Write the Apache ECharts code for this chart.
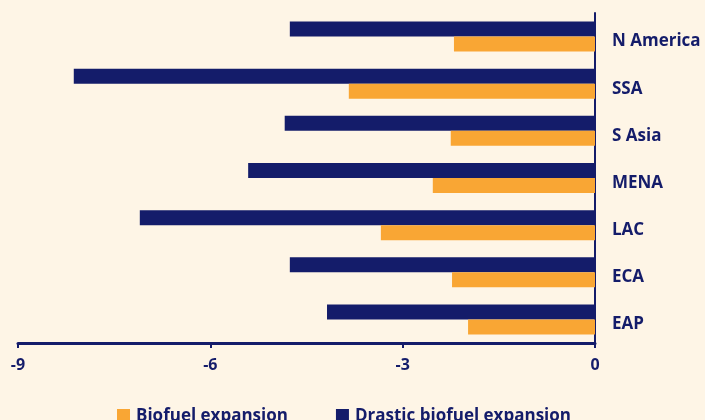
<!DOCTYPE html>
<html>
<head>
<meta charset="utf-8">
<script src="https://cdn.jsdelivr.net/npm/echarts@6/dist/echarts.min.js"></script>
<style>
html,body{margin:0;padding:0;background:#FEF5E6;}
#c{width:705px;height:420px;}
</style>
</head>
<body>
<div id="c"></div>
<script>
const categories = ['EAP', 'ECA', 'LAC', 'MENA', 'S Asia', 'SSA', 'N America'];
const biofuel = [-1.98, -2.23, -3.34, -2.53, -2.25, -3.84, -2.2];
const drastic = [-4.18, -4.76, -7.1, -5.41, -4.84, -8.13, -4.76];
const xTicks = [-9, -6, -3, 0];

const navy = '#141C6A';
const orange = '#F9A634';
const font = '"Open Sans", Lato, sans-serif';

const chart = echarts.init(document.getElementById('c'));
chart.setOption({
  backgroundColor: '#FEF5E6',
  animation: false,
  textStyle: { fontFamily: font },
  grid: { left: 18, right: 110, top: 13, bottom: 77, containLabel: false },
  legend: {
    bottom: -10,
    left: 112,
    itemWidth: 13,
    itemHeight: 15,
    itemGap: 48,
    icon: 'rect',
    textStyle: { fontFamily: font, fontWeight: 'bold', fontSize: 17, color: navy, padding: [0, 0, 0, 1] },
    data: ['Biofuel expansion', 'Drastic biofuel expansion']
  },
  xAxis: {
    type: 'value',
    min: xTicks[0],
    max: xTicks[xTicks.length - 1],
    interval: 3,
    axisLine: { show: true, lineStyle: { color: navy, width: 3 } },
    axisTick: { show: true, length: 5, lineStyle: { color: navy, width: 2 } },
    axisLabel: { color: navy, fontWeight: 'bold', fontSize: 16, margin: 14, fontFamily: font },
    splitLine: { show: false }
  },
  yAxis: {
    type: 'category',
    position: 'right',
    data: categories,
    axisLine: { show: true, onZero: false, lineStyle: { color: navy, width: 2 } },
    axisTick: { show: false },
    axisLabel: {
      margin: 17,
      formatter: function (v) { return '{a|' + v + '}'; },
      rich: {
        a: { color: navy, fontWeight: 'bold', fontSize: 17, fontFamily: font, padding: [10, 0, 0, 0] }
      }
    }
  },
  series: [
    {
      name: 'Drastic biofuel expansion',
      type: 'bar',
      data: drastic,
      barWidth: 15,
      barGap: '0%',
      itemStyle: { color: navy }
    },
    {
      name: 'Biofuel expansion',
      type: 'bar',
      data: biofuel,
      barWidth: 15,
      barGap: '0%',
      itemStyle: { color: orange }
    }
  ]
});
</script>
</body>
</html>
